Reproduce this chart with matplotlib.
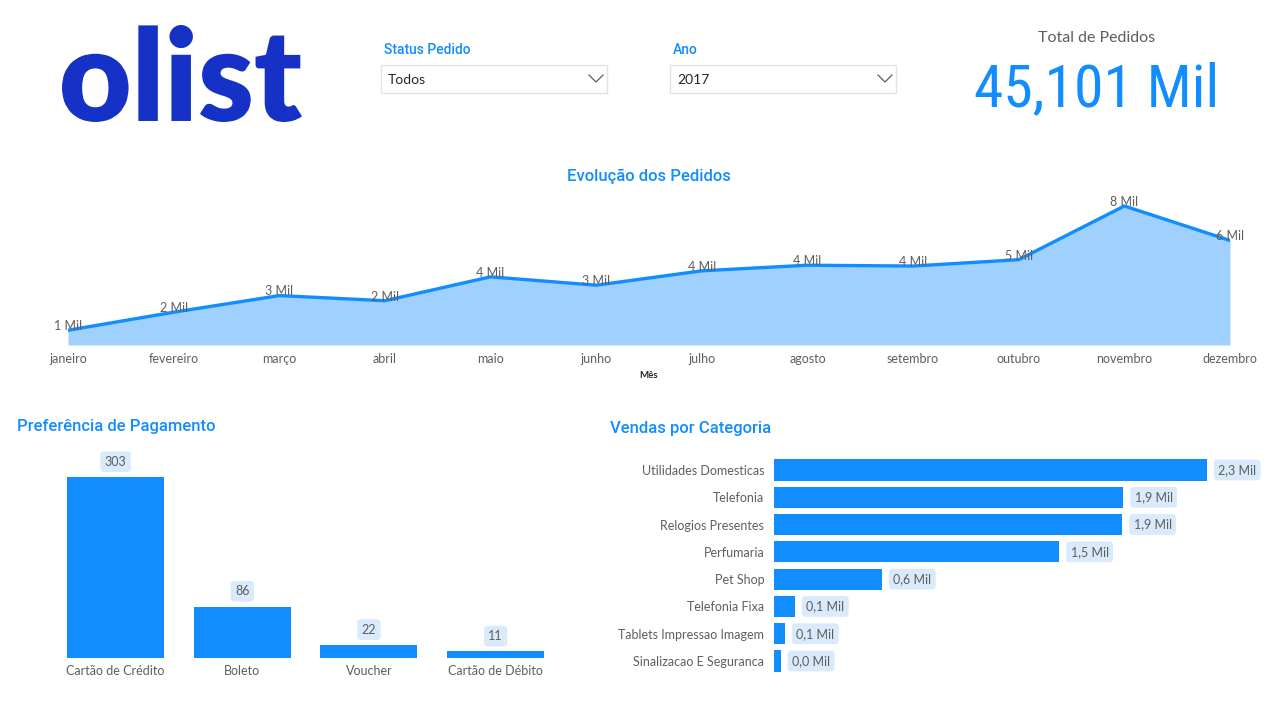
import matplotlib
matplotlib.use("Agg")
import matplotlib.pyplot as plt
from matplotlib.textpath import TextPath
from matplotlib.patches import PathPatch, Rectangle
from matplotlib.font_manager import FontProperties, fontManager

# ---------------- data ----------------
months = ["janeiro", "fevereiro", "março", "abril", "maio", "junho", "julho",
          "agosto", "setembro", "outubro", "novembro", "dezembro"]
orders = [800, 1780, 2682, 2404, 3700, 3245, 4026, 4331, 4285, 4631, 7544, 5673]

pay_types = ["Cartão de Crédito", "Boleto", "Voucher", "Cartão de Débito"]
pay_values = [303, 86, 22, 11]

categories = ["Utilidades Domesticas", "Telefonia", "Relogios Presentes", "Perfumaria",
              "Pet Shop", "Telefonia Fixa", "Tablets Impressao Imagem", "Sinalizacao E Seguranca"]
cat_values = [2300, 1856, 1851, 1516, 574, 112, 59, 37]

status_value = "Todos"
year_value = "2017"

# ---------------- style ----------------
W, H = 1270, 702
BLUE = "#118dff"
AREA = "#a0d0fd"
GRAY = "#605e5c"
LABEL_BG = "#d8eafc"
BODY = ["Lato", "DejaVu Sans"]
TITLE = ["Roboto", "DejaVu Sans"]

available = {f.name for f in fontManager.ttflist}
narrow = "DejaVu Sans"
for cand in ["Liberation Sans Narrow", "Roboto Condensed", "DejaVu Sans Condensed",
             "Open Sans Condensed", "Noto Sans Condensed", "Roboto", "Lato"]:
    if cand in available:
        narrow = cand
        break

fig = plt.figure(figsize=(W / 100, H / 100), dpi=100)
fig.patch.set_facecolor("white")


def ax_px(left, top, right, bottom, **kw):
    return fig.add_axes([left / W, 1 - bottom / H, (right - left) / W, (bottom - top) / H], **kw)


# overlay for decorations / texts in pixel coordinates
ov = ax_px(0, 0, W, H)
ov.set_xlim(0, W)
ov.set_ylim(H, 0)
ov.axis("off")

# ---------------- logo ----------------
lg = ax_px(62, 25, 302, 122)
tp = TextPath((0, 0), "olist", size=100, prop=FontProperties(family="Lato", weight="heavy"))
ext = tp.get_extents()
lg.add_patch(PathPatch(tp, fc="#1531c6", ec="none"))
lg.set_xlim(ext.x0, ext.x1)
lg.set_ylim(ext.y0, ext.y1)
lg.axis("off")

# ---------------- slicers ----------------
for lx, title, val in [(381, "Status Pedido", status_value), (670, "Ano", year_value)]:
    ov.text(lx + 3, 50, title, color=BLUE, fontsize=10, family=TITLE, fontweight="medium",
            ha="left", va="center")
    ov.add_patch(Rectangle((lx, 65), 226, 28, fc="white", ec="#e3e3e3", lw=1))
    ov.text(lx + 7, 80, val, color="#252423", fontsize=10, family=BODY, ha="left", va="center")
    cx = lx + 215
    ov.plot([cx - 7, cx, cx + 7], [75, 82, 75], color="#605e5c", lw=0.9)

# ---------------- KPI ----------------
ov.text(1097, 38, "Total de Pedidos", color=GRAY, fontsize=11.5, family=BODY,
        ha="center", va="center")
kpi = ov.text(1097, 90, f"{sum(orders):,} Mil", color=BLUE, fontsize=45,
              family=[narrow, "DejaVu Sans"], ha="center", va="center")
# fit the KPI width to ~245 px
fig.canvas.draw()
bb = kpi.get_window_extent()
fs = min(45, 45 * 245 / bb.width)
kpi.set_fontsize(fs)

# ---------------- line / area chart ----------------
ov.text(649, 176, "Evolução dos Pedidos", color=BLUE, fontsize=12, family=TITLE,
        fontweight="medium", ha="center", va="center")
px_per = 139 / 7544
la = ax_px(68, 190, 1230, 345)
la.set_facecolor("none")
x = list(range(len(months)))
la.fill_between(x, orders, 0, color=AREA, lw=0)
la.plot(x, orders, color=BLUE, lw=2.4, solid_joinstyle="round")
la.set_xlim(0, len(months) - 1)
la.set_ylim(0, 155 / px_per)
for xi, v in zip(x, orders):
    la.annotate(f"{round(v / 1000):d} Mil", (xi, v), xytext=(0, 3), textcoords="offset points",
                ha="center", va="center", fontsize=9, color=GRAY, family=BODY)
la.set_xticks(x, months)
la.tick_params(axis="x", length=0, pad=6, labelsize=9, labelcolor=GRAY)
for t in la.get_xticklabels():
    t.set_family(BODY)
la.set_yticks([])
for s in la.spines.values():
    s.set_visible(False)
ov.text(649, 375, "Mês", color="#252423", fontsize=7, family=BODY, fontweight="bold",
        ha="center", va="center")

# ---------------- payment bars ----------------
ov.text(17, 427, "Preferência de Pagamento", color=BLUE, fontsize=12, family=TITLE,
        fontweight="medium", ha="left", va="center")
pb = ax_px(52.2, 440, 559, 658)
pb.set_facecolor("none")
pscale = 181 / 303
px_ = list(range(len(pay_types)))
pb.bar(px_, pay_values, width=0.766, color=BLUE)
pb.set_xlim(-0.5, len(pay_types) - 0.5)
pb.set_ylim(0, 218 / pscale)
for xi, v in zip(px_, pay_values):
    pb.annotate(f"{v}", (xi, v), xytext=(0, 11), textcoords="offset points",
                ha="center", va="center", fontsize=9, color=GRAY, family=BODY,
                bbox=dict(boxstyle="round,pad=0.35,rounding_size=0.3", fc=LABEL_BG, ec="none"))
pb.set_xticks(px_, pay_types)
pb.tick_params(axis="x", length=0, pad=5, labelsize=9, labelcolor=GRAY)
for t in pb.get_xticklabels():
    t.set_family(BODY)
pb.set_yticks([])
for s in pb.spines.values():
    s.set_visible(False)

# ---------------- category bars ----------------
ov.text(610, 428, "Vendas por Categoria", color=BLUE, fontsize=12, family=TITLE,
        fontweight="medium", ha="left", va="center")
step = (661 - 470) / 7
cb = ax_px(774, 470 - step / 2, 1262, 661 + step / 2)
cb.set_facecolor("none")
cscale = 433 / 2300
cy = list(range(len(categories)))
cb.barh(cy, cat_values, height=0.77, color=BLUE)
cb.set_ylim(len(categories) - 0.5, -0.5)
cb.set_xlim(0, 488 / cscale)
for yi, v in zip(cy, cat_values):
    cb.annotate(f"{v / 1000:.1f}".replace(".", ",") + " Mil", (v, yi), xytext=(8, 0),
                textcoords="offset points", ha="left", va="center", fontsize=9, color=GRAY,
                family=BODY,
                bbox=dict(boxstyle="round,pad=0.35,rounding_size=0.3", fc=LABEL_BG, ec="none"))
cb.set_yticks(cy, categories)
cb.tick_params(axis="y", length=0, pad=7, labelsize=9, labelcolor=GRAY)
for t in cb.get_yticklabels():
    t.set_family(BODY)
cb.set_xticks([])
for s in cb.spines.values():
    s.set_visible(False)

fig.savefig("out.png", dpi=100, facecolor="white")
